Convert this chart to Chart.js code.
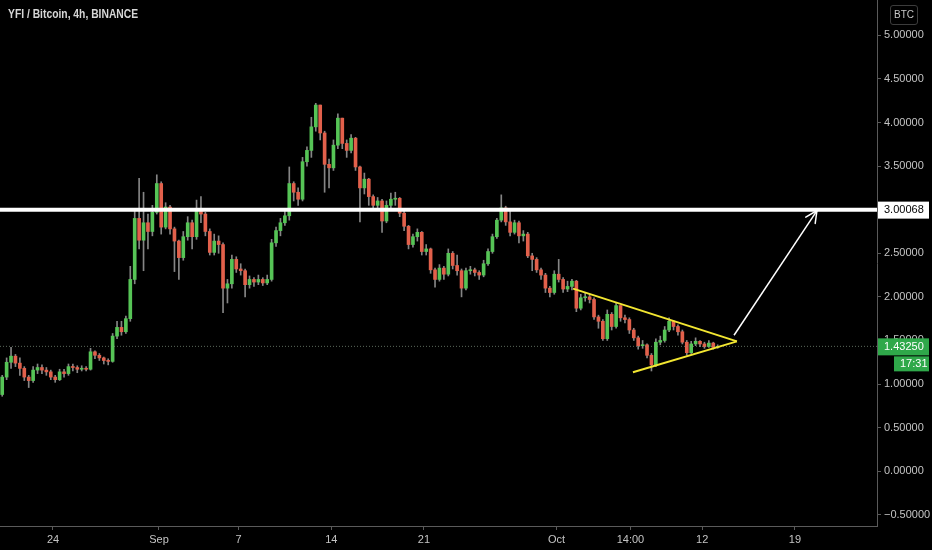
<!DOCTYPE html>
<html><head><meta charset="utf-8">
<script src="https://cdn.jsdelivr.net/npm/chart.js@4.4.1/dist/chart.umd.min.js"></script>
<style>
html,body{margin:0;padding:0;background:#000;}
#wrap{position:relative;width:932px;height:550px;overflow:hidden;}
#title{position:absolute;left:8px;top:7px;color:#d6d6d6;font:bold 12px "Liberation Sans",Arial,sans-serif;white-space:nowrap;transform:scaleX(0.86);transform-origin:0 0;}
#unit{position:absolute;left:890px;top:5px;width:26px;height:18px;border:1px solid #3c3c3c;border-radius:3px;color:#c8c8c8;font:10px "Liberation Sans",Arial,sans-serif;text-align:center;line-height:18px;}
</style></head>
<body><div id="wrap"><canvas id="c" width="932" height="550"></canvas><div id="title">YFI / Bitcoin, 4h, BINANCE</div><div id="unit">BTC</div></div>
<script>
// ---- data (8h candles; x in days since Aug 20) ----
const firstOpen = 0.88;
const candleStepDays = 1/3;
const closes = [1.08,1.25,1.32,1.24,1.18,1.08,1.04,1.16,1.19,1.16,
1.14,1.08,1.05,1.14,1.12,1.2,1.19,1.17,1.18,1.17,
1.37,1.33,1.3,1.27,1.26,1.55,1.65,1.6,1.75,2.2,
2.9,2.65,2.85,2.75,2.97,3.3,2.8,3.03,2.78,2.64,
2.45,2.69,2.85,2.69,2.98,2.95,2.75,2.51,2.64,2.6,
2.1,2.15,2.43,2.32,2.3,2.14,2.2,2.17,2.2,2.16,
2.2,2.62,2.76,2.85,2.93,3.3,3.2,3.12,3.55,3.68,
3.95,4.2,3.88,3.52,3.48,3.74,4.05,3.76,3.68,3.82,
3.49,3.25,3.35,3.15,3.05,3.1,2.87,3.05,3.12,3.13,
2.96,2.81,2.6,2.69,2.74,2.52,2.55,2.31,2.2,2.33,
2.26,2.5,2.36,2.3,2.1,2.3,2.31,2.28,2.25,2.38,
2.52,2.69,2.88,3.02,2.86,2.74,2.85,2.7,2.72,2.47,
2.43,2.31,2.25,2.1,2.05,2.26,2.2,2.09,2.12,2.18,
1.87,1.99,2.0,1.97,1.77,1.72,1.52,1.8,1.66,1.9,
1.76,1.74,1.62,1.53,1.44,1.45,1.33,1.22,1.48,1.5,
1.62,1.72,1.66,1.6,1.48,1.36,1.46,1.49,1.46,1.43,
1.47,1.42,1.4325];
const highs = [1.1,1.3,1.42,1.34,1.3,1.2,1.1,1.2,1.23,1.22,
1.19,1.16,1.1,1.17,1.17,1.23,1.23,1.21,1.21,1.2,
1.41,1.38,1.35,1.31,1.29,1.58,1.72,1.72,1.78,2.35,
3.0,3.36,3.2,2.95,3.05,3.4,3.32,3.08,3.05,2.8,
2.65,2.75,2.92,2.88,3.11,3.15,2.97,2.78,2.72,2.7,
2.62,2.2,2.48,2.46,2.38,2.32,2.24,2.22,2.25,2.22,
2.25,2.66,2.8,2.9,2.98,3.49,3.32,3.25,3.6,3.72,
4.06,4.22,4.2,3.9,3.58,3.8,4.1,4.05,3.8,3.86,
3.83,3.5,3.42,3.36,3.17,3.14,3.12,3.1,3.19,3.2,
3.14,2.98,2.82,2.72,2.78,2.75,2.6,2.56,2.33,2.37,
2.35,2.55,2.52,2.48,2.32,2.33,2.35,2.33,2.3,2.42,
2.55,2.72,2.9,3.17,3.04,2.98,2.88,2.87,2.76,2.74,
2.5,2.45,2.33,2.27,2.12,2.3,2.43,2.22,2.18,2.2,
2.19,2.03,2.05,2.03,1.99,1.79,1.74,1.85,1.82,1.93,
1.9,1.79,1.76,1.64,1.55,1.5,1.46,1.35,1.52,1.55,
1.66,1.76,1.73,1.68,1.62,1.5,1.49,1.53,1.5,1.48,
1.5,1.48,1.45];
const lows = [0.86,1.05,1.18,1.2,1.1,1.04,0.96,1.02,1.12,1.12,
1.1,1.05,1.02,1.04,1.08,1.1,1.15,1.13,1.15,1.15,
1.16,1.29,1.27,1.23,1.22,1.25,1.52,1.56,1.58,1.72,
2.15,2.55,2.3,2.55,2.7,2.95,2.72,2.78,2.72,2.29,
2.2,2.42,2.65,2.55,2.66,2.85,2.7,2.48,2.48,2.5,
1.82,1.93,2.1,2.28,2.25,2.0,2.1,2.12,2.14,2.13,
2.14,2.18,2.58,2.7,2.82,2.88,3.1,3.05,3.1,3.5,
3.6,3.9,3.8,3.2,3.25,3.45,3.7,3.7,3.6,3.65,
3.45,2.86,3.18,3.05,3.0,3.0,2.74,2.85,3.02,3.05,
2.92,2.76,2.55,2.57,2.64,2.48,2.48,2.27,2.11,2.18,
2.2,2.24,2.32,2.25,2.0,2.08,2.26,2.24,2.2,2.23,
2.36,2.5,2.67,2.86,2.82,2.7,2.72,2.62,2.64,2.45,
2.3,2.28,2.2,2.05,2.0,2.03,2.17,2.05,2.06,2.08,
1.83,1.85,1.95,1.93,1.74,1.64,1.5,1.5,1.62,1.64,
1.72,1.7,1.58,1.5,1.4,1.41,1.3,1.15,1.2,1.45,
1.48,1.6,1.62,1.56,1.46,1.33,1.35,1.44,1.43,1.41,
1.42,1.4,1.41];
const xTickDays = [4,12,18,25,32,42,47.58,53,60];
const xTickLabels = ['24','Sep','7','14','21','Oct','14:00','12','19'];
const yTickValues = [-0.5,0,0.5,1,1.5,2,2.5,3,3.5,4,4.5,5];
const xRange = [0, 66.19];
const yRange = [-0.628, 5.405];
const resistanceLevel = 3.00068;
const lastPrice = 1.4325;
const countdownText = '17:31';
const triangleUpper = [{x:43.25,y:2.095},{x:55.62,y:1.49}];
const triangleLower = [{x:47.77,y:1.136},{x:55.62,y:1.49}];
const arrowLine = [{x:55.4,y:1.56},{x:61.66,y:2.99}];

// ---- build candles ----
const UP='#56c456', DOWN='#e2604b', WICK='#858585';
const opens = closes.map((c,i)=> i===0 ? firstOpen : closes[i-1]);
const times = closes.map((c,i)=> (i+0.5)*candleStepDays);
const wickData = closes.map((c,i)=>({x:times[i], y:[Math.min(lows[i],opens[i],c), Math.max(highs[i],opens[i],c)]}));
const bodyData = closes.map((c,i)=>({x:times[i], y:[opens[i], c]}));
const bodyColors = closes.map((c,i)=> c>=opens[i] ? UP : DOWN);

const FONT = {family:'"Liberation Sans", Arial, sans-serif', size:11};
const overlay = {
  id:'overlay',
  afterDatasetsDraw(chart){
    const {ctx, scales:{x,y}} = chart;
    const x1=x.getPixelForValue(arrowLine[0].x), y1=y.getPixelForValue(arrowLine[0].y);
    const x2=x.getPixelForValue(arrowLine[1].x), y2=y.getPixelForValue(arrowLine[1].y);
    const a=Math.atan2(y2-y1,x2-x1), L=13, s=0.45;
    ctx.save();
    ctx.strokeStyle='#ffffff'; ctx.lineWidth=1.5; ctx.lineCap='round';
    ctx.beginPath();
    ctx.moveTo(x2-L*Math.cos(a-s), y2-L*Math.sin(a-s)); ctx.lineTo(x2,y2);
    ctx.lineTo(x2-L*Math.cos(a+s), y2-L*Math.sin(a+s));
    ctx.stroke();
    ctx.restore();
  },
  afterDraw(chart){
    const {ctx, chartArea, scales:{y}} = chart;
    const left = chartArea.right+1;
    ctx.save();
    ctx.font = '11px "Liberation Sans", Arial, sans-serif';
    ctx.textBaseline='middle';
    let py = y.getPixelForValue(resistanceLevel);
    ctx.fillStyle='#ffffff'; ctx.fillRect(left, py-8, 51, 17);
    ctx.fillStyle='#000000'; ctx.fillText(resistanceLevel.toFixed(5), left+6, py+0.5);
    py = y.getPixelForValue(lastPrice);
    ctx.fillStyle='#2fa84a'; ctx.fillRect(left, py-8, 51, 17);
    ctx.fillStyle='#ffffff'; ctx.fillText(lastPrice.toFixed(5), left+6, py+0.5);
    ctx.fillStyle='#2fa84a'; ctx.fillRect(left+16, py+10, 35, 15);
    ctx.fillStyle='#ffffff'; ctx.fillText(countdownText, left+22, py+17.5);
    ctx.restore();
  }
};

new Chart(document.getElementById('c'), {
  type:'bar',
  data:{datasets:[
    {type:'line', data:[{x:xRange[0],y:resistanceLevel},{x:xRange[1],y:resistanceLevel}], borderColor:'#ffffff', borderWidth:4, pointRadius:0, order:1},
    {type:'line', data:[{x:xRange[0],y:lastPrice},{x:xRange[1],y:lastPrice}], borderColor:'rgba(130,150,130,0.7)', borderWidth:1, borderDash:[1,2], pointRadius:0, order:2},
    {type:'line', data:triangleUpper, borderColor:'#f2e631', borderWidth:2, pointRadius:0, order:1},
    {type:'line', data:triangleLower, borderColor:'#f2e631', borderWidth:2, pointRadius:0, order:1},
    {type:'line', data:arrowLine, borderColor:'#ffffff', borderWidth:1.5, pointRadius:0, order:1},
    {data:wickData, backgroundColor:WICK, barThickness:1, grouped:false, order:4},
    {data:bodyData, backgroundColor:bodyColors, barThickness:3, minBarLength:1, grouped:false, order:3}
  ]},
  options:{
    responsive:false, animation:false, devicePixelRatio:1,
    layout:{padding:0},
    plugins:{legend:{display:false}, tooltip:{enabled:false}, title:{display:false}},
    scales:{
      x:{type:'linear', position:'bottom', min:xRange[0], max:xRange[1], offset:false,
        grid:{display:true, offset:false, drawOnChartArea:false, drawTicks:true, tickLength:4, color:'#5a5a5a'},
        border:{display:true, color:'#5a5a5a'},
        ticks:{color:'#c4c4c4', font:FONT, autoSkip:false, maxRotation:0, padding:3,
          callback:(v,i)=> xTickLabels[i]},
        afterBuildTicks:s=>{ s.ticks = xTickDays.map(v=>({value:v})); },
        afterFit:s=>{ s.height=24; s.paddingLeft=0; s.paddingRight=0; }
      },
      y:{type:'linear', position:'right', min:yRange[0], max:yRange[1],
        grid:{display:true, offset:false, drawOnChartArea:false, drawTicks:true, tickLength:4, color:'#5a5a5a'},
        border:{display:true, color:'#5a5a5a'},
        ticks:{color:'#c4c4c4', font:FONT, padding:3,
          callback:v=> v<0 ? '\u2212'+Math.abs(v).toFixed(5) : v.toFixed(5)},
        afterBuildTicks:s=>{ s.ticks = yTickValues.map(v=>({value:v})); },
        afterFit:s=>{ s.width=55; s.paddingTop=0; s.paddingBottom=0; }
      }
    }
  },
  plugins:[overlay]
});
</script>
</body></html>
